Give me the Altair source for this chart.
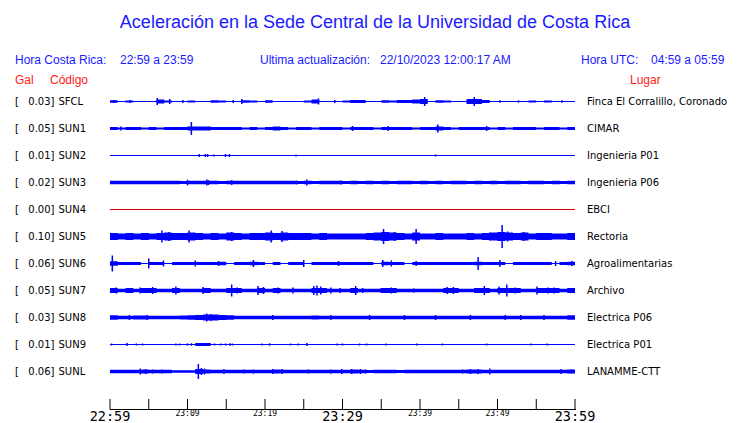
import altair as alt
import pandas as pd

# ---------------- data ----------------
title_text = "Aceleración en la Sede Central de la Universidad de Costa Rica"
hora_cr = "22:59 a 23:59"
hora_utc = "04:59 a 05:59"
actualizacion = "22/10/2023 12:00:17 AM"

stations = ["SFCL", "SUN1", "SUN2", "SUN3", "SUN4", "SUN5", "SUN6", "SUN7", "SUN8", "SUN9", "SUNL"]
gal = ["0.03", "0.05", "0.01", "0.02", "0.00", "0.10", "0.06", "0.05", "0.03", "0.01", "0.06"]
places = ["Finca El Corralillo, Coronado", "CIMAR", "Ingenieria P01", "Ingenieria P06", "EBCI",
          "Rectoria", "Agroalimentarias", "Archivo", "Electrica P06", "Electrica P01", "LANAMME-CTT"]

# per-minute envelope (half amplitude, drawing units) for each trace, minutes 0..59
amp_SFCL = [1.2, 0, 1, 0, 0, 0, 2, 1, 0, 0,
            1, 0, 0, 1.2, 1, 0, 0, 1.2, 1, 0,
            1.2, 0, 0, 0, 0, 1, 2, 0, 0, 0,
            1, 1.5, 1.5, 0, 0, 1.2, 1, 1.5, 1.5, 2,
            2.5, 0, 1.2, 1, 0, 0, 2.5, 2.5, 1.5, 0,
            0, 0, 0, 0, 1, 0, 1, 0, 0, 0]
amp_SUN1 = [1.5, 1, 1.5, 1.5, 1, 1.5, 1, 1.5, 1.5, 1.5,
            2, 2, 2, 1.5, 1.5, 1.5, 1.5, 1, 1.5, 1,
            1.5, 2, 1.5, 1, 1.5, 1.5, 1, 1.5, 1.5, 1.5,
            1, 1.5, 1.5, 1.5, 1, 1.5, 1.5, 1.5, 1.5, 1,
            1.5, 1.5, 2, 1.5, 1, 1.5, 1.5, 1.5, 1.5, 1,
            1.5, 1, 1.5, 1.5, 1.5, 1, 1.5, 1.5, 1, 1.5]
amp_SUN2 = [0, 0, 0, 0, 0, 0, 0, 0, 0, 0,
            0, 0, 0, 0, 0, 0, 0, 0, 0, 0,
            0, 0, 0, 0, 0, 0, 0, 0, 0, 0,
            0, 0, 0, 0, 0, 0, 0, 0, 0, 0,
            0, 0, 0, 0, 0, 0, 0, 0, 0, 0,
            0, 0, 0, 0, 0, 0, 0, 0, 0, 0]
amp_SUN3 = [1.7, 1.7, 1.7, 1.7, 1.7, 1.7, 1.7, 1.7, 1.7, 1.5,
            1.7, 1.7, 1.7, 1.7, 1.5, 1.7, 1.7, 1.7, 1.7, 1.7,
            1.7, 1.7, 1.7, 1.7, 1.5, 1.7, 1.5, 1.7, 1.7, 1.7,
            1.5, 1.7, 1.5, 1.7, 1.5, 1.7, 1.5, 1.7, 1.7, 1.5,
            1.7, 1.5, 1.7, 1.5, 1.7, 1.7, 1.5, 1.7, 1.5, 1.7,
            1.5, 1.7, 1.7, 1.5, 1.7, 1.7, 1.5, 1.7, 1.5, 1.7]
amp_SUN4 = [0, 0, 0, 0, 0, 0, 0, 0, 0, 0,
            0, 0, 0, 0, 0, 0, 0, 0, 0, 0,
            0, 0, 0, 0, 0, 0, 0, 0, 0, 0,
            0, 0, 0, 0, 0, 0, 0, 0, 0, 0,
            0, 0, 0, 0, 0, 0, 0, 0, 0, 0,
            0, 0, 0, 0, 0, 0, 0, 0, 0, 0]
amp_SUN5 = [3.5, 3, 3.5, 3, 3.5, 3, 3.5, 4, 3.5, 3.5,
            4, 3.5, 3, 3.5, 3, 4, 3.5, 3, 3.5, 3.5,
            4, 3.5, 4, 3.5, 3.5, 3.5, 3, 3.5, 3, 3,
            3, 3, 3, 3.5, 4, 4.5, 4, 3.5, 3, 4,
            3, 3, 3.5, 3, 3, 3, 3.5, 3, 3.5, 4,
            4.5, 4, 3.5, 4, 3, 3.5, 3.5, 3, 3, 3.5]
amp_SUN6 = [2.2, 1.6, 1.6, 1.6, 0.5, 1.6, 1.6, 0.5, 1.6, 1.6,
            1.6, 1.6, 1.6, 1.6, 1.8, 0.5, 1.6, 1.6, 1.8, 1.6,
            0.5, 1.6, 0.5, 1.6, 1.6, 0.5, 1.6, 1.6, 1.6, 1.6,
            1.6, 1.6, 1.6, 1.6, 0.5, 1.8, 1.6, 1.6, 0.5, 1.6,
            1.6, 1.6, 1.6, 1.6, 1.6, 1.6, 1.6, 1.8, 1.6, 1.6,
            1.6, 0.5, 1.6, 1.6, 1.6, 1.6, 1.6, 0.5, 1.6, 1.8]
amp_SUN7 = [2.5, 1.8, 2.5, 1.8, 2.5, 2.5, 1.8, 1.8, 2.5, 1.8,
            1.8, 1.8, 2.5, 1.8, 1.8, 2.5, 2.5, 1.8, 1.8, 2.5,
            1.8, 2.5, 1.8, 1.8, 1.8, 1.8, 2.5, 2.5, 1.8, 1.8,
            1.8, 2.5, 1.8, 1.8, 1.8, 2.5, 2.5, 1.8, 1.8, 1.8,
            1.8, 1.8, 1.8, 2.5, 2.5, 1.8, 1.8, 2.5, 2.5, 1.8,
            2.5, 2.5, 2.5, 1.8, 1.8, 2.5, 2.5, 2.5, 1.8, 2.5]
amp_SUN8 = [2.3, 1.7, 1.7, 2, 2, 1.7, 1.7, 1.7, 1.7, 2,
            2.3, 2.5, 3, 3, 2.5, 2.3, 1.7, 1.7, 1.7, 1.7,
            1.7, 1.7, 1.7, 1.7, 1.7, 1.7, 2, 1.7, 1.7, 1.7,
            1.7, 1.7, 1.7, 1.7, 1.7, 1.7, 1.7, 1.7, 1.7, 1.7,
            1.7, 1.7, 1.7, 1.7, 1.7, 1.7, 1.7, 1.7, 1.7, 1.7,
            1.7, 1.7, 1.7, 1.7, 1.7, 1.7, 1.7, 1.7, 1.7, 2.2]
amp_SUN9 = [0, 0, 0, 0, 0, 0, 0, 0, 0, 0,
            0, 1.5, 1.5, 0, 0, 0, 0, 0, 0, 0,
            0, 0, 0, 0, 0, 0, 0, 0, 0, 0,
            0, 0, 0, 0, 0, 0, 0, 0, 0, 0,
            0, 0, 0, 0, 0, 0, 0, 0, 0, 0,
            0, 0, 0, 0, 0, 0, 0, 0, 0, 0]
amp_SUNL = [1.8, 1.8, 1.8, 1.8, 2, 1.8, 1.8, 1.8, 1.3, 1.3,
            1.3, 2.5, 2, 1.8, 1.8, 1.8, 1.8, 1.8, 1.8, 1.8,
            1.8, 2, 1.8, 1.8, 1.8, 1.8, 1.8, 1.8, 1.8, 1.8,
            1.8, 2, 1.8, 1.5, 1.8, 1.8, 1.8, 1.5, 1.8, 1.8,
            1.8, 1.8, 1.8, 1.8, 1.8, 1.8, 2, 2, 1.8, 1.8,
            1.8, 1.8, 1.8, 1.8, 1.8, 1.8, 1.8, 1.8, 1.8, 2]

# narrow peaks: (minute, half amplitude)
spk_SFCL = [(0.5, 1.5), (2.6, 1.5), (6.1, 3.5), (7.7, 2.5), (9.4, 1.5), (15.9, 1.5), (17.0, 2.5),
            (26.9, 3), (29.0, 1.5), (40.6, 4.5), (47.0, 4.5), (50.3, 1.2), (52.7, 1.2), (58.3, 1.2)]
spk_SUN1 = [(1.4, 2), (10.5, 6.5), (31.3, 2.5), (35.9, 2.5), (42.3, 4), (48.6, 2.5)]
spk_SUN2 = [(11.5, 1.5), (12.3, 1.5), (12.6, 1.5), (13.4, 1), (14.9, 1.5), (15.4, 1.5), (24.0, 1), (42.0, 1)]
spk_SUN3 = [(10.0, 2.8), (12.5, 3), (12.7, 2.5), (15.7, 2.5), (24.1, 2), (25.4, 3), (29.8, 2)]
spk_SUN4 = []
spk_SUN5 = [(6.7, 6), (7.6, 4.5), (10.2, 6), (15.7, 4.5), (20.8, 6), (22.2, 5.5), (35.3, 7.5),
            (36.7, 4.5), (39.5, 7.5), (49.0, 4), (50.6, 11.5), (51.3, 5), (53.4, 4.5)]
spk_SUN6 = [(0.3, 8), (5.0, 5), (6.9, 3), (11.0, 3), (14.0, 2.5), (18.5, 3.5), (25.0, 3.5), (29.5, 2.5),
            (35.2, 3.5), (36.3, 3), (39.5, 2.5), (47.5, 6.5), (50.3, 3.5), (57.5, 2.5), (59.6, 2.5)]
spk_SUN7 = [(0.8, 3), (2.2, 2.5), (3.9, 3), (5.5, 3.5), (8.5, 4), (12.0, 3.5), (15.7, 6), (16.4, 3),
            (19.1, 4.5), (19.8, 3.5), (21.7, 3), (23.6, 3), (26.3, 4.5), (26.7, 5), (27.2, 4), (28.5, 3),
            (29.7, 2.5), (31.7, 4.5), (32.6, 2.5), (35.0, 2.5), (36.3, 3), (39.2, 2), (43.5, 3.5),
            (44.3, 3.5), (47.1, 2.5), (48.3, 4.5), (50.2, 4), (51.2, 6), (52.3, 3), (55.1, 4),
            (56.5, 3), (57.3, 3)]
spk_SUN8 = [(2.5, 2.5), (4.8, 2.5), (12.5, 4), (13.0, 3.5), (21.0, 2.5), (28.5, 2.5), (33.5, 2.5),
            (38.0, 2.5), (42.0, 2.5), (46.5, 2.5), (51.0, 2.5), (53.0, 2.5), (56.0, 2.5)]
spk_SUN9 = [(0.2, 1), (2.2, 1.5), (3.4, 1), (4.2, 1), (8.5, 1), (9.0, 1), (10.0, 1.2), (10.5, 1.2),
            (13.5, 1), (14.3, 1), (14.9, 1), (15.5, 1.2), (15.8, 1), (19.6, 1), (20.6, 1.2), (23.3, 1),
            (24.3, 1), (25.4, 1.5), (29.3, 1), (30.0, 1), (32.2, 1), (33.1, 1), (35.6, 1), (39.6, 1),
            (42.9, 1), (48.6, 1), (54.3, 1), (56.4, 1)]
spk_SUNL = [(3.9, 3), (4.6, 2.5), (5.5, 2), (6.7, 2), (11.4, 7.5), (11.8, 3.5), (12.2, 3), (14.7, 2.5),
            (17.3, 2), (18.5, 2), (21.0, 2.5), (22.2, 2.5), (25.6, 2), (28.5, 2), (29.9, 2.5), (31.2, 2.5),
            (32.3, 2.5), (33.0, 2), (45.5, 2), (46.5, 2.5), (47.5, 2.5), (49.0, 3), (58.2, 2.5), (59.5, 2)]

tick_minutes = [0, 5, 10, 15, 20, 25, 30, 35, 40, 45, 50, 55, 60]
label_minutes = [0, 10, 20, 30, 40, 50, 60]
label_text = ["22:59", "23:09", "23:19", "23:29", "23:39", "23:49", "23:59"]
big_labels = ["22:59", "23:29", "23:59"]

# ---------------- build tables ----------------
amps = [amp_SFCL, amp_SUN1, amp_SUN2, amp_SUN3, amp_SUN4, amp_SUN5,
        amp_SUN6, amp_SUN7, amp_SUN8, amp_SUN9, amp_SUNL]
spks = [spk_SFCL, spk_SUN1, spk_SUN2, spk_SUN3, spk_SUN4, spk_SUN5,
        spk_SUN6, spk_SUN7, spk_SUN8, spk_SUN9, spk_SUNL]

ROW_PX = 27.0
area_rows, spike_rows = [], []
for i, (s, a_list, sp) in enumerate(zip(stations, amps, spks)):
    for m in range(61):
        a = a_list[min(m, 59)]
        area_rows.append({"station": s, "t": m, "lo": i - a / ROW_PX, "hi": i + a / ROW_PX})
    for t, a in sp:
        spike_rows.append({"station": s, "t": t, "lo": i - a / ROW_PX, "hi": i + a / ROW_PX})
area_df = pd.DataFrame(area_rows)
spike_df = pd.DataFrame(spike_rows)
rows_df = pd.DataFrame({"station": stations, "row": list(range(len(stations))),
                        "gal": [g + "]" for g in gal], "place": places, "t0": 0, "t1": 60})
ticks_df = pd.DataFrame({"m": tick_minutes})
labels_df = pd.DataFrame({"m": label_minutes, "lab": label_text})
labels_df["big"] = labels_df["lab"].isin(big_labels)

# ---------------- chart ----------------
W, H = 465, 324
BLUE = "#0000ff"
TBLUE = "#1a1aff"
RED = "#ff1a1a"
xs = alt.Scale(domain=[0, 60], nice=False, zero=False)
ys = alt.Scale(domain=[-0.5, 11.5], reverse=True, nice=False, zero=False)
X = lambda f: alt.X(f, scale=xs, axis=None)
Y = lambda f: alt.Y(f, scale=ys, axis=None)

base_lines = alt.Chart(rows_df).mark_rule(strokeWidth=1).encode(
    x=X("t0:Q"), x2="t1:Q", y=Y("row:Q"),
    color=alt.condition(alt.datum.station == "SUN4", alt.value("#d40000"), alt.value(BLUE)))

areas = alt.Chart(area_df).transform_filter(alt.datum.station != "SUN4").mark_area(
    interpolate="step-after", color=BLUE, opacity=1).encode(
    x=X("t:Q"), y=Y("lo:Q"), y2="hi:Q", detail="station:N")

spikes = alt.Chart(spike_df).mark_rule(strokeWidth=1.5, color=BLUE).encode(
    x=X("t:Q"), y=Y("lo:Q"), y2="hi:Q")

lab_font = "DejaVu Sans"
bracket = alt.Chart(rows_df).mark_text(text="[", align="left", baseline="middle", font=lab_font,
                                       fontSize=10, color="black").encode(x=alt.value(-95), y=Y("row:Q"))
galtxt = alt.Chart(rows_df).mark_text(align="right", baseline="middle", font=lab_font,
                                      fontSize=10, color="black").encode(x=alt.value(-55.5), y=Y("row:Q"), text="gal:N")
code = alt.Chart(rows_df).mark_text(align="left", baseline="middle", font=lab_font,
                                    fontSize=10, color="black").encode(x=alt.value(-51.5), y=Y("row:Q"), text="station:N")
place = alt.Chart(rows_df).mark_text(align="left", baseline="middle", font=lab_font,
                                     fontSize=10, color="black").encode(x=alt.value(477), y=Y("row:Q"), text="place:N")

one = pd.DataFrame({"k": [0]})


def txt(s, x, y, size=12, color=TBLUE, align="left"):
    return alt.Chart(one).mark_text(text=s, align=align, baseline="middle", font="Liberation Sans",
                                    fontSize=size, color=color).encode(x=alt.value(x), y=alt.value(y))


headers = [
    txt(title_text, 265, -65, size=18, align="center"),
    txt("Hora Costa Rica:", -95, -28),
    txt(hora_cr, 10, -28),
    txt("Ultima actualización:", 150, -28),
    txt(actualizacion, 270, -28),
    txt("Hora UTC:", 471, -28),
    txt(hora_utc, 541, -28),
    txt("Gal", -95, -8, color=RED),
    txt("Código", -60, -8, color=RED),
    txt("Lugar", 520, -8, color=RED),
]

axis_line = alt.Chart(one).mark_rule(color="black", strokeWidth=1).encode(
    x=alt.value(0), x2=alt.value(W + 1), y=alt.value(321.5))
ticks = alt.Chart(ticks_df).mark_rule(color="black", strokeWidth=1).encode(
    x=X("m:Q"), y=alt.value(311), y2=alt.value(321.5))
small_lab = alt.Chart(labels_df).transform_filter("!datum.big").mark_text(
    font="DejaVu Sans Mono", fontSize=8, color="black", baseline="alphabetic", align="center").encode(
    x=X("m:Q"), y=alt.value(328), text="lab:N")
big_lab = alt.Chart(labels_df).transform_filter("datum.big").mark_text(
    font="DejaVu Sans Mono", fontSize=13.5, color="black", baseline="alphabetic", align="center").encode(
    x=X("m:Q"), y=alt.value(333), text="lab:N")

chart = alt.layer(
    base_lines, areas, spikes, bracket, galtxt, code, place, *headers,
    axis_line, ticks, small_lab, big_lab
).properties(
    width=W, height=H,
    padding={"left": 102, "top": 80, "right": 157, "bottom": 14},
    autosize=alt.AutoSizeParams(type="none"),
).configure(background="white", view=alt.ViewConfig(strokeWidth=0, stroke="transparent"))

chart.save("out.html", embed_options={"renderer": "svg", "actions": False})
